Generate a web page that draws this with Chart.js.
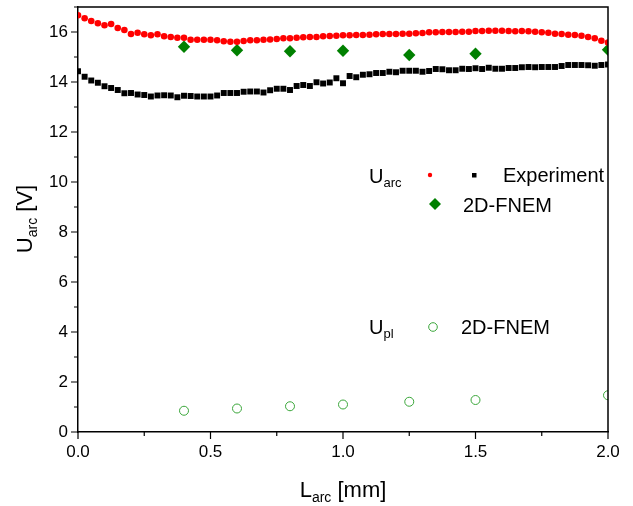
<!DOCTYPE html>
<html>
<head>
<meta charset="utf-8">
<script src="https://cdn.jsdelivr.net/npm/chart.js@4.4.1/dist/chart.umd.min.js"></script>
<style>
body { margin: 0; background: #fff; }
</style>
</head>
<body>
<canvas id="arcChart" width="633" height="506"></canvas>
<script>
// arc length [mm] of the measured points
var lArc = [0, 0.025, 0.05, 0.075, 0.1, 0.125, 0.15, 0.175, 0.2, 0.225, 0.25, 0.275, 0.3, 0.325, 0.35, 0.375, 0.4, 0.425, 0.45, 0.475,
    0.5, 0.525, 0.55, 0.575, 0.6, 0.625, 0.65, 0.675, 0.7, 0.725, 0.75, 0.775, 0.8, 0.825, 0.85, 0.875, 0.9, 0.925, 0.95, 0.975,
    1.0, 1.025, 1.05, 1.075, 1.1, 1.125, 1.15, 1.175, 1.2, 1.225, 1.25, 1.275, 1.3, 1.325, 1.35, 1.375, 1.4, 1.425, 1.45, 1.475,
    1.5, 1.525, 1.55, 1.575, 1.6, 1.625, 1.65, 1.675, 1.7, 1.725, 1.75, 1.775, 1.8, 1.825, 1.85, 1.875, 1.9, 1.925, 1.95, 1.975, 2.0];

// U_arc red dots
var uArcRed = [16.67, 16.55, 16.44, 16.35, 16.27, 16.32, 16.16, 16.08, 15.92, 15.97, 15.91, 15.87, 15.91, 15.83, 15.80, 15.77, 15.77, 15.69, 15.69, 15.69,
    15.69, 15.67, 15.63, 15.61, 15.61, 15.64, 15.67, 15.67, 15.69, 15.70, 15.72, 15.75, 15.75, 15.77, 15.79, 15.80, 15.80, 15.83, 15.84, 15.85,
    15.87, 15.87, 15.88, 15.88, 15.89, 15.91, 15.92, 15.92, 15.92, 15.93, 15.93, 15.95, 15.96, 15.99, 15.99, 16.00, 16.00, 16.00, 16.01, 16.01,
    16.04, 16.04, 16.05, 16.05, 16.05, 16.04, 16.03, 16.04, 16.03, 16.01, 15.99, 15.97, 15.93, 15.92, 15.89, 15.88, 15.85, 15.80, 15.75, 15.65, 15.58];

// U_arc black squares (Experiment)
var uArcBlack = [14.43, 14.21, 14.06, 13.97, 13.83, 13.76, 13.68, 13.55, 13.56, 13.50, 13.48, 13.42, 13.46, 13.47, 13.46, 13.39, 13.45, 13.44, 13.42, 13.42,
    13.42, 13.46, 13.56, 13.56, 13.56, 13.61, 13.62, 13.62, 13.58, 13.67, 13.73, 13.73, 13.68, 13.84, 13.88, 13.84, 13.99, 13.94, 13.98, 14.15,
    13.95, 14.24, 14.19, 14.29, 14.31, 14.36, 14.36, 14.41, 14.39, 14.45, 14.45, 14.45, 14.41, 14.44, 14.52, 14.51, 14.47, 14.47, 14.53, 14.52,
    14.55, 14.52, 14.57, 14.53, 14.53, 14.56, 14.56, 14.59, 14.60, 14.59, 14.60, 14.60, 14.60, 14.64, 14.68, 14.68, 14.68, 14.67, 14.65, 14.68, 14.70];

// 2D-FNEM simulation
var lArcSim = [0.4, 0.6, 0.8, 1.0, 1.25, 1.5, 2.0];
var uArcSim = [15.41, 15.27, 15.23, 15.25, 15.08, 15.13, 15.29];
var uPlSim = [0.85, 0.94, 1.03, 1.10, 1.21, 1.28, 1.47];

var FONT = '"Liberation Sans", Arial, sans-serif';
var GREEN = '#008000';
var LIGHT_GREEN = '#3aa63a';

function toPoints(xs, ys) {
    return xs.map(function (x, i) { return { x: x, y: ys[i] }; });
}

// text with a subscript: main, sub, rest
function subText(ctx, x, y, main, sub, rest, size, subSize, drop) {
    ctx.font = size + 'px ' + FONT;
    ctx.fillText(main, x, y);
    var w = ctx.measureText(main).width;
    ctx.font = subSize + 'px ' + FONT;
    ctx.fillText(sub, x + w, y + drop);
    w += ctx.measureText(sub).width;
    if (rest) {
        ctx.font = size + 'px ' + FONT;
        ctx.fillText(rest, x + w, y);
    }
}

function subWidth(ctx, main, sub, rest, size, subSize) {
    ctx.font = size + 'px ' + FONT;
    var w = ctx.measureText(main).width + ctx.measureText(rest).width;
    ctx.font = subSize + 'px ' + FONT;
    return w + ctx.measureText(sub).width;
}

var framePlugin = {
    id: 'frame',
    afterDraw: function (chart) {
        var ctx = chart.ctx;
        var a = chart.chartArea;
        var xs = chart.scales.x, ys = chart.scales.y;
        ctx.save();
        ctx.strokeStyle = '#000';
        ctx.lineWidth = 1.5;
        ctx.beginPath();
        ctx.moveTo(a.left, a.top);
        ctx.lineTo(a.right, a.top);
        ctx.lineTo(a.right, a.bottom);
        ctx.stroke();

        // outward tick marks, long on labelled ticks
        ctx.lineWidth = 1.2;
        ctx.beginPath();
        ys.ticks.forEach(function (t) {
            var py = ys.getPixelForValue(t.value);
            var len = t.label !== '' ? 7 : 4;
            ctx.moveTo(a.left - len, py);
            ctx.lineTo(a.left, py);
        });
        xs.ticks.forEach(function (t) {
            var px = xs.getPixelForValue(t.value);
            var len = t.label !== '' ? 7 : 4;
            ctx.moveTo(px, a.bottom);
            ctx.lineTo(px, a.bottom + len);
        });
        ctx.stroke();

        // axis titles
        ctx.fillStyle = '#000';
        ctx.textBaseline = 'alphabetic';
        ctx.textAlign = 'left';
        var xw = subWidth(ctx, 'L', 'arc', ' [mm]', 22, 14);
        subText(ctx, (a.left + a.right) / 2 - xw / 2, 497, 'L', 'arc', ' [mm]', 22, 14, 5);

        ctx.save();
        ctx.translate(32, 219);
        ctx.rotate(-Math.PI / 2);
        var yw = subWidth(ctx, 'U', 'arc', ' [V]', 22, 14);
        subText(ctx, -yw / 2, 0, 'U', 'arc', ' [V]', 22, 14, 5);
        ctx.restore();

        // legend block
        subText(ctx, 369, 183, 'U', 'arc', '', 20, 13, 4);
        ctx.font = '20px ' + FONT;
        ctx.fillText('Experiment', 503, 182);
        ctx.fillText('2D-FNEM', 463, 212);
        subText(ctx, 369, 334, 'U', 'pl', '', 20, 13, 4);
        ctx.font = '20px ' + FONT;
        ctx.fillText('2D-FNEM', 461, 334);

        ctx.fillStyle = '#ff0000';
        ctx.beginPath();
        ctx.arc(430, 175, 2.2, 0, Math.PI * 2);
        ctx.fill();
        ctx.fillStyle = '#000';
        ctx.fillRect(472, 173, 4.5, 4.5);
        ctx.fillStyle = GREEN;
        ctx.beginPath();
        ctx.moveTo(435, 198);
        ctx.lineTo(441, 204);
        ctx.lineTo(435, 210);
        ctx.lineTo(429, 204);
        ctx.closePath();
        ctx.fill();
        ctx.strokeStyle = LIGHT_GREEN;
        ctx.lineWidth = 1;
        ctx.beginPath();
        ctx.arc(433, 327, 4.3, 0, Math.PI * 2);
        ctx.stroke();
        ctx.restore();
    }
};

var ctx = document.getElementById('arcChart').getContext('2d');
var myChart = new Chart(ctx, {
    type: 'scatter',
    data: {
        datasets: [{
            label: 'U_arc',
            data: toPoints(lArc, uArcRed),
            pointStyle: 'circle',
            pointRadius: 3.3,
            pointBorderWidth: 0,
            backgroundColor: '#ff0000',
            borderColor: '#ff0000',
            clip: 0
        }, {
            label: 'Experiment',
            data: toPoints(lArc, uArcBlack),
            pointStyle: 'rect',
            pointRadius: 4.2,
            pointBorderWidth: 0,
            backgroundColor: '#000',
            borderColor: '#000',
            clip: 0
        }, {
            label: '2D-FNEM U_arc',
            data: toPoints(lArcSim, uArcSim),
            pointStyle: 'rectRot',
            pointRadius: 6.2,
            pointBorderWidth: 0,
            backgroundColor: GREEN,
            borderColor: GREEN,
            clip: 0
        }, {
            label: '2D-FNEM U_pl',
            data: toPoints(lArcSim, uPlSim),
            pointStyle: 'circle',
            pointRadius: 4.5,
            pointBorderWidth: 1,
            backgroundColor: 'rgba(0,0,0,0)',
            borderColor: LIGHT_GREEN,
            clip: 0
        }]
    },
    options: {
        responsive: false,
        animation: false,
        layout: {
            padding: { top: 7, right: 25, left: 0, bottom: 0 }
        },
        plugins: {
            legend: { display: false },
            tooltip: { enabled: false }
        },
        scales: {
            x: {
                type: 'linear',
                min: 0,
                max: 2,
                afterFit: function (scale) {
                    scale.height = 74;
                    scale.paddingLeft = 0;
                    scale.paddingRight = 0;
                },
                grid: { display: true, drawOnChartArea: false, drawTicks: false },
                border: { display: true, color: '#000', width: 1.5 },
                ticks: {
                    stepSize: 0.25,
                    autoSkip: false,
                    maxRotation: 0,
                    padding: 10,
                    color: '#000',
                    font: { family: FONT, size: 17 },
                    callback: function (v) { return v % 0.5 === 0 ? v.toFixed(1) : ''; }
                }
            },
            y: {
                min: 0,
                max: 17,
                afterFit: function (scale) {
                    scale.width = 78;
                    scale.paddingTop = 0;
                    scale.paddingBottom = 0;
                },
                grid: { display: true, drawOnChartArea: false, drawTicks: false },
                border: { display: true, color: '#000', width: 1.5 },
                ticks: {
                    stepSize: 1,
                    autoSkip: false,
                    padding: 10,
                    color: '#000',
                    font: { family: FONT, size: 17 },
                    callback: function (v) { return v % 2 === 0 ? String(v) : ''; }
                }
            }
        }
    },
    plugins: [framePlugin]
});
</script>
</body>
</html>
